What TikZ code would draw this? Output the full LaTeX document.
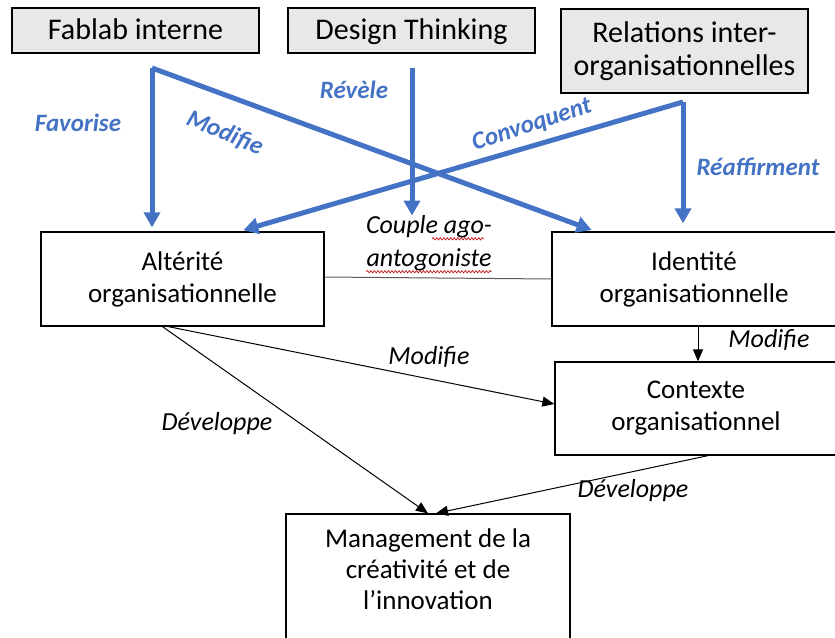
\documentclass[tikz,border=0pt]{standalone}
\usepackage{fontspec}
\setmainfont{Carlito}
\usetikzlibrary{arrows.meta,decorations.pathmorphing}
\newlength{\du}
\setlength{\du}{1pt}
\definecolor{dialineblue}{rgb}{0.267, 0.447, 0.769}
\definecolor{diafillgray}{rgb}{0.910, 0.910, 0.910}
\definecolor{dialinegray}{rgb}{0.350, 0.350, 0.350}
\tikzset{
  topbox/.style={draw=black, fill=diafillgray, line width=1.6\du, inner sep=0pt,
    minimum width=247\du, align=center, font=\fontsize{30}{33}\selectfont},
  onelinebox/.style={topbox, minimum height=45\du, text height=22pt, text depth=4pt},
  conceptbox/.style={draw=black, line width=1.3\du, inner sep=0pt,
    align=center, font=\fontsize{27}{32}\selectfont},
  boxtext/.style={align=center, inner sep=0pt, font=\fontsize{27}{31}\selectfont},
  bluelink/.style={draw=dialineblue, line width=5\du,
    -{Triangle[width=16pt,length=15pt]}},
  bluelabel/.style={text=dialineblue, inner sep=0pt,
    font=\fontsize{25}{29}\selectfont\bfseries\itshape},
  blacklink/.style={draw=black, line width=1\du,
    -{Triangle[width=10pt,length=12pt]}},
  blacklabel/.style={inner sep=0pt, font=\fontsize{26}{31}\selectfont\itshape},
  spellwave/.style={draw=red!75!black, line width=0.6\du,
    decorate, decoration={snake, amplitude=1.2pt, segment length=3.5pt}}
}

\begin{document}
\begin{tikzpicture}[x=\du, y=-\du]
\useasboundingbox (0,0) rectangle (835,637);

% sources
\node[onelinebox] (fablab) at (135.5,30.5) {Fablab interne};
\node[onelinebox] (design) at (411.5,30.5) {Design Thinking};
\node[topbox, minimum height=84\du] (relations) at (684.5,51) {Relations inter-\\organisationnelles};

% concepts
\node[conceptbox, minimum width=283\du, minimum height=94\du] (alterite) at (182.5,279)
  {Altérité\\organisationnelle};
\node[conceptbox, minimum width=284\du, minimum height=94\du] (identite) at (694,279)
  {Identité\\organisationnelle};
\node[conceptbox, minimum width=282\du, minimum height=93\du] (contexte) at (696,408.5)
  {Contexte\\organisationnel};
\node[conceptbox, minimum width=284\du, minimum height=128\du] (management) at (428,578) {};
\node[boxtext] (managementtext) at (428,569)
  {Management de la\\créativité et de\\l’innovation};

\node[blacklabel] (coupleone) at (429,227) {Couple ago-};
\node[blacklabel] (coupletwo) at (429,260) {antogoniste};

% split points of the blue arrows
\coordinate (fablabsplit) at (152,68);
\coordinate (designsplit) at (412,68);
\coordinate (relationssplit) at (683,102);

\draw[bluelink, shorten >=4pt] (fablabsplit) -- (fablabsplit |- alterite.north);
\draw[bluelink, shorten >=4pt] (fablabsplit) -- ([xshift=44pt]identite.north west);
\draw[bluelink] (designsplit) -- (designsplit |- coupleone.north);
\draw[bluelink, shorten >=8pt] (relationssplit) -- (relationssplit |- identite.north);
\draw[bluelink, shorten >=4pt] (relationssplit) -- ([xshift=57pt]alterite.north);

\node[bluelabel] (favorise) at (78,123) {Favorise};
\node[bluelabel, rotate=-23] (modifieblue) at (225,133) {Modifie};
\node[bluelabel] (revele) at (354,90) {Révèle};
\node[bluelabel, rotate=18] (convoquent) at (532,125) {Convoquent};
\node[bluelabel] (reaffirment) at (758,167) {Réaffirment};

% links between concepts
\draw[draw=dialinegray, line width=1\du] ([yshift=2pt]alterite.east) -- (identite.west);
\draw[blacklink] ([xshift=-14pt]alterite.south) -- ([yshift=4.5pt]contexte.west);
\draw[blacklink] ([xshift=-20pt]alterite.south) -- (management.north);
\draw[blacklink] ([xshift=4pt]identite.south) -- ([xshift=4pt]identite.south |- contexte.north);
\draw[blacklink] ([xshift=12pt]contexte.south) -- ([xshift=8pt]management.north);

\node[blacklabel] (modifieleft) at (429,357) {Modifie};
\node[blacklabel] (modifieright) at (769,340) {Modifie};
\node[blacklabel] (developpeleft) at (217,424) {Développe};
\node[blacklabel] (developperight) at (633,491) {Développe};

\draw[spellwave] ([xshift=-60pt, yshift=-5pt]coupleone.base east) -- ([xshift=-8pt, yshift=-5pt]coupleone.base east);
\draw[spellwave] ([yshift=-5pt]coupletwo.base west) -- ([yshift=-5pt]coupletwo.base east);
\end{tikzpicture}
\end{document}
